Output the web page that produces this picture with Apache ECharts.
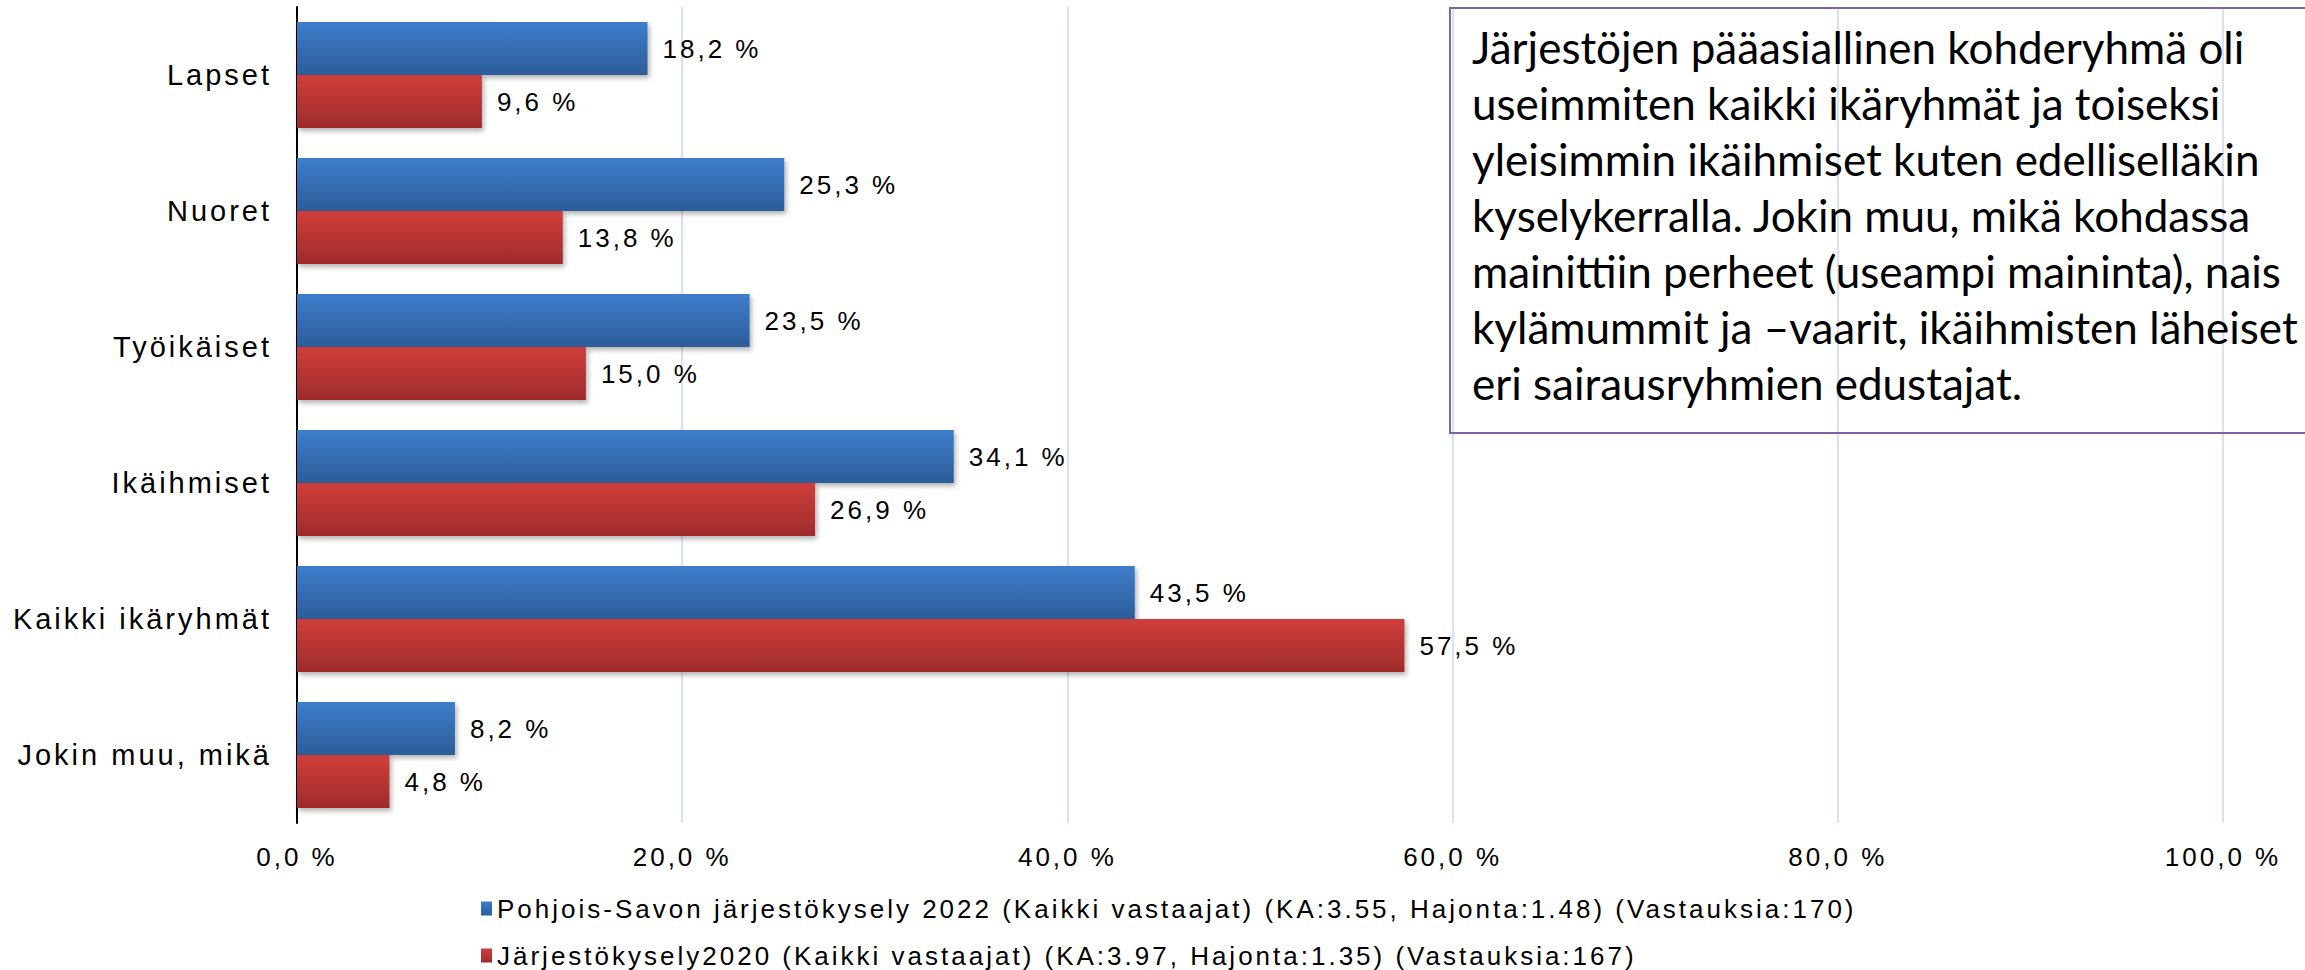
<!DOCTYPE html>
<html>
<head>
<meta charset="utf-8">
<script src="https://cdn.jsdelivr.net/npm/echarts@6/dist/echarts.min.js"></script>
<style>
html, body { margin: 0; padding: 0; background: #fff; overflow: hidden; }
#main { width: 2305px; height: 970px; }
/* raportin fontissa on harvennus, paitsi tekstilaatikossa */
#main text { letter-spacing: 3px; }
#main text[style*="Lato"] { letter-spacing: 0; }
</style>
</head>
<body>
<div id="main"></div>
<script>
// kohderyhmät
var categories = ['Lapset', 'Nuoret', 'Työikäiset', 'Ikäihmiset', 'Kaikki ikäryhmät', 'Jokin muu, mikä'];
// osuudet %
var values2022 = [18.2, 25.3, 23.5, 34.1, 43.5, 8.2];
var values2020 = [9.6, 13.8, 15.0, 26.9, 57.5, 4.8];
var seriesNames = [
    'Pohjois-Savon järjestökysely 2022 (Kaikki vastaajat) (KA:3.55, Hajonta:1.48) (Vastauksia:170)',
    'Järjestökysely2020 (Kaikki vastaajat) (KA:3.97, Hajonta:1.35) (Vastauksia:167)'
];
var axisMin = 0, axisMax = 100, axisStep = 20;
var noteLines = [
    'Järjestöjen pääasiallinen kohderyhmä oli',
    'useimmiten kaikki ikäryhmät ja toiseksi',
    'yleisimmin ikäihmiset kuten edelliselläkin',
    'kyselykerralla. Jokin muu, mikä kohdassa',
    'mainittiin perheet (useampi maininta), nais',
    'kylämummit ja –vaarit, ikäihmisten läheiset',
    'eri sairausryhmien edustajat.'
];

var font = 'Liberation Sans, Arial, sans-serif';

function pct(v) {
    return v.toFixed(1).replace('.', ',') + ' %';
}

var blueFill = new echarts.graphic.LinearGradient(0, 0, 0, 1, [
    { offset: 0, color: '#3e7dcb' },
    { offset: 1, color: '#2c5d99' }
]);
var redFill = new echarts.graphic.LinearGradient(0, 0, 0, 1, [
    { offset: 0, color: '#d03e3c' },
    { offset: 1, color: '#9e2b2b' }
]);

var myChart = echarts.init(document.getElementById('main'), null, { renderer: 'svg' });

var labelStyle = {
    show: true,
    position: 'right',
    distance: 15,
    fontFamily: font,
    fontSize: 26,
    color: '#000',
    formatter: function (p) { return pct(p.value); }
};

var barShadow = {
    shadowColor: 'rgba(0,0,0,0.3)',
    shadowBlur: 5,
    shadowOffsetY: 3,
    shadowOffsetX: 2
};

var option = {
    animation: false,
    grid: { left: 297, right: 82, top: 7, bottom: 147 },
    legend: {
        orient: 'vertical',
        left: 481,
        top: 894,
        padding: 0,
        icon: 'rect',
        itemWidth: 11,
        itemHeight: 14,
        itemGap: 18,
        textStyle: { fontFamily: font, fontSize: 26, lineHeight: 29, color: '#000' },
        data: seriesNames
    },
    xAxis: {
        type: 'value',
        min: axisMin,
        max: axisMax,
        interval: axisStep,
        axisLine: { show: false },
        axisTick: { show: false },
        splitLine: { lineStyle: { color: '#d9e2f0', width: 2 } },
        axisLabel: {
            margin: 21,
            fontFamily: font,
            fontSize: 26,
            color: '#000',
            formatter: function (v) { return pct(v); }
        }
    },
    yAxis: {
        type: 'category',
        inverse: true,
        data: categories,
        axisLine: { lineStyle: { color: '#000', width: 2 } },
        axisTick: { show: false },
        axisLabel: { margin: 25, fontFamily: font, fontSize: 29, color: '#000' }
    },
    series: [
        {
            name: seriesNames[0],
            type: 'bar',
            barWidth: 53,
            barGap: '0%',
            data: values2022,
            itemStyle: Object.assign({ color: blueFill }, barShadow),
            label: labelStyle
        },
        {
            name: seriesNames[1],
            type: 'bar',
            barWidth: 53,
            data: values2020,
            itemStyle: Object.assign({ color: redFill }, barShadow),
            label: labelStyle
        }
    ],
    graphic: [
        {
            type: 'rect',
            shape: { x: 1450, y: 8, width: 900, height: 425 },
            style: { fill: 'none', stroke: '#8064a2', lineWidth: 2 },
            z: 10
        },
        {
            type: 'text',
            x: 1472,
            y: 19,
            style: {
                text: noteLines.join('\n'),
                fontFamily: 'Lato',
                fontSize: 44,
                lineHeight: 56,
                fill: '#000'
            },
            z: 10
        }
    ]
};

myChart.setOption(option);
</script>
</body>
</html>
